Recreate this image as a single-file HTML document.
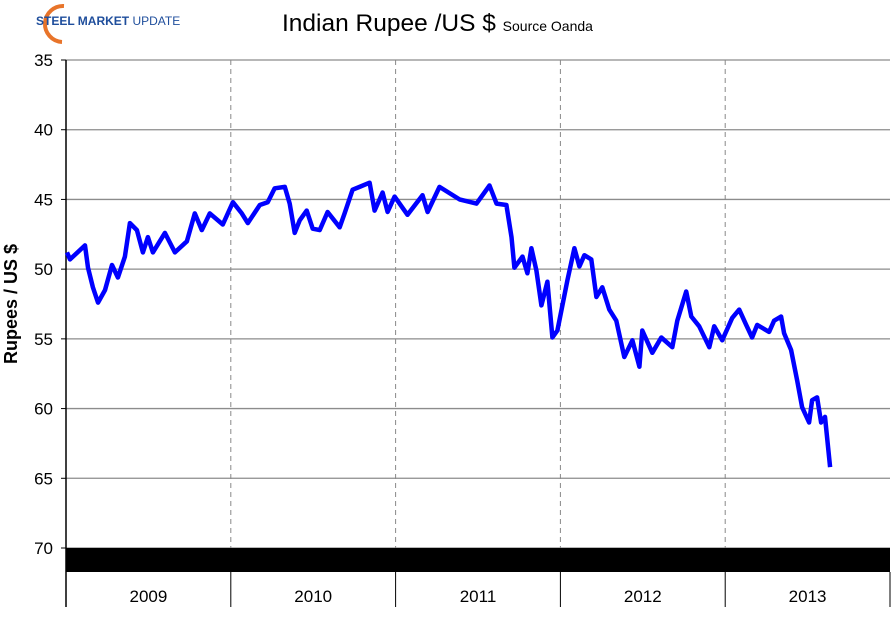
<!DOCTYPE html>
<html><head><meta charset="utf-8"><style>
body{margin:0;background:#fff;width:893px;height:612px;overflow:hidden;font-family:"Liberation Sans",sans-serif}
</style></head><body>
<svg width="893" height="612" xmlns="http://www.w3.org/2000/svg" font-family="Liberation Sans, sans-serif">
<g>
<path d="M64 6 A17 17 0 1 0 62 42" fill="none" stroke="#e8742a" stroke-width="4"/>
<text x="36" y="25" font-size="12" font-weight="bold" fill="#1f4e9c">STEEL MARKET <tspan font-weight="normal">UPDATE</tspan></text>
</g>
<text x="282" y="31" font-size="24.5">Indian Rupee /US $ <tspan font-size="14">Source Oanda</tspan></text>
<text transform="translate(17,304) rotate(-90)" text-anchor="middle" font-size="18" font-weight="bold">Rupees / US $</text>
<g id="grid"></g>
<rect x="66" y="548" width="824" height="24" fill="#000"/>
<line x1="66" y1="60" x2="66" y2="607" stroke="#000" stroke-width="1.5"/>
<g id="years"></g>
<g id="ticks"></g>
<path id="series" fill="none" stroke="#0000ff" stroke-width="4.5" stroke-linejoin="round"/>
</svg>
<script>
const yTicks=[35,40,45,50,55,60,65,70];
const years=["2009","2010","2011","2012","2013"];
const months=[0.07,0.29,1.38,1.6,1.96,2.33,2.84,3.35,3.78,4.29,4.65,5.16,5.6,5.96,6.33,7.2,7.93,8.8,9.38,9.89,10.47,11.42,12.15,12.8,13.24,14.11,14.69,15.2,15.93,16.29,16.65,17.02,17.53,17.96,18.47,19.05,19.93,20.29,20.87,21.38,22.11,22.47,23.05,23.42,23.93,24.87,25.96,26.33,27.2,28.65,29.89,30.84,31.35,32.07,32.44,32.65,33.24,33.6,33.89,34.25,34.62,35.05,35.42,35.78,36.51,37.02,37.38,37.75,38.25,38.62,39.05,39.56,40.07,40.65,41.24,41.75,41.96,42.69,43.35,44.15,44.51,45.16,45.53,46.11,46.84,47.2,47.78,48.51,49.02,49.53,49.96,50.33,51.2,51.56,52.07,52.29,52.8,53.24,53.6,54.11,54.33,54.69,54.98,55.27,55.64];
const rates=[48.8,49.3,48.3,49.9,51.3,52.4,51.5,49.7,50.6,49.1,46.7,47.2,48.8,47.7,48.8,47.4,48.8,48.0,46.0,47.2,46.0,46.8,45.2,46.0,46.7,45.4,45.2,44.2,44.1,45.3,47.4,46.5,45.8,47.1,47.2,45.9,47.0,46.0,44.3,44.1,43.8,45.8,44.5,45.9,44.8,46.1,44.7,45.9,44.1,45.0,45.3,44.0,45.3,45.4,47.7,49.9,49.1,50.3,48.5,50.1,52.6,50.9,54.9,54.4,50.8,48.5,49.8,49.0,49.3,52.0,51.3,52.9,53.7,56.3,55.1,57.0,54.4,56.0,54.9,55.6,53.7,51.6,53.4,54.1,55.6,54.1,55.1,53.5,52.9,54.0,54.9,54.0,54.5,53.7,53.4,54.6,55.8,58.0,59.9,61.0,59.4,59.2,61.0,60.6,64.2];
const NS="http://www.w3.org/2000/svg";
const X0=66,X1=890,Y0=60,Y1=548;
const xs=m=>X0+m/60*(X1-X0);
const ys=v=>Y0+(v-35)/35*(Y1-Y0);
const grid=document.getElementById('grid'),ticks=document.getElementById('ticks'),yr=document.getElementById('years');
yTicks.forEach(t=>{
 const l=document.createElementNS(NS,'line');
 l.setAttribute('x1',X0);l.setAttribute('x2',X1);l.setAttribute('y1',ys(t));l.setAttribute('y2',ys(t));
 l.setAttribute('stroke','#8c8c8c');l.setAttribute('stroke-width','1.3');
 
 
 grid.appendChild(l);
 const tk=document.createElementNS(NS,'line');
 tk.setAttribute('x1',X0-5);tk.setAttribute('x2',X0);tk.setAttribute('y1',ys(t));tk.setAttribute('y2',ys(t));tk.setAttribute('stroke','#000');
 ticks.appendChild(tk);
 const tx=document.createElementNS(NS,'text');
 tx.setAttribute('x',53);tx.setAttribute('y',ys(t)+6);tx.setAttribute('text-anchor','end');tx.setAttribute('font-size','17');
 tx.textContent=t;
 
 
 ticks.appendChild(tx);
});
years.forEach((y,i)=>{
 const xa=xs(i*12),xb=xs((i+1)*12);
 if(i>0){
  const d=document.createElementNS(NS,'line');
  d.setAttribute('x1',xa);d.setAttribute('x2',xa);d.setAttribute('y1',Y0);d.setAttribute('y2',Y1);
  d.setAttribute('stroke','#888');d.setAttribute('stroke-dasharray','5,4');
  
  
  grid.appendChild(d);
 }
 const s=document.createElementNS(NS,'line');
 s.setAttribute('x1',xb);s.setAttribute('x2',xb);s.setAttribute('y1',572);s.setAttribute('y2',607);s.setAttribute('stroke','#000');
 yr.appendChild(s);
 const tx=document.createElementNS(NS,'text');
 tx.setAttribute('x',(xa+xb)/2);tx.setAttribute('y',602);tx.setAttribute('text-anchor','middle');tx.setAttribute('font-size','17');
 tx.textContent=y;
 
 
 yr.appendChild(tx);
});
document.getElementById('series').setAttribute('d',months.map((m,i)=>(i?'L':'M')+xs(m).toFixed(1)+' '+ys(rates[i]).toFixed(1)).join(' '));
</script>
</body></html>
